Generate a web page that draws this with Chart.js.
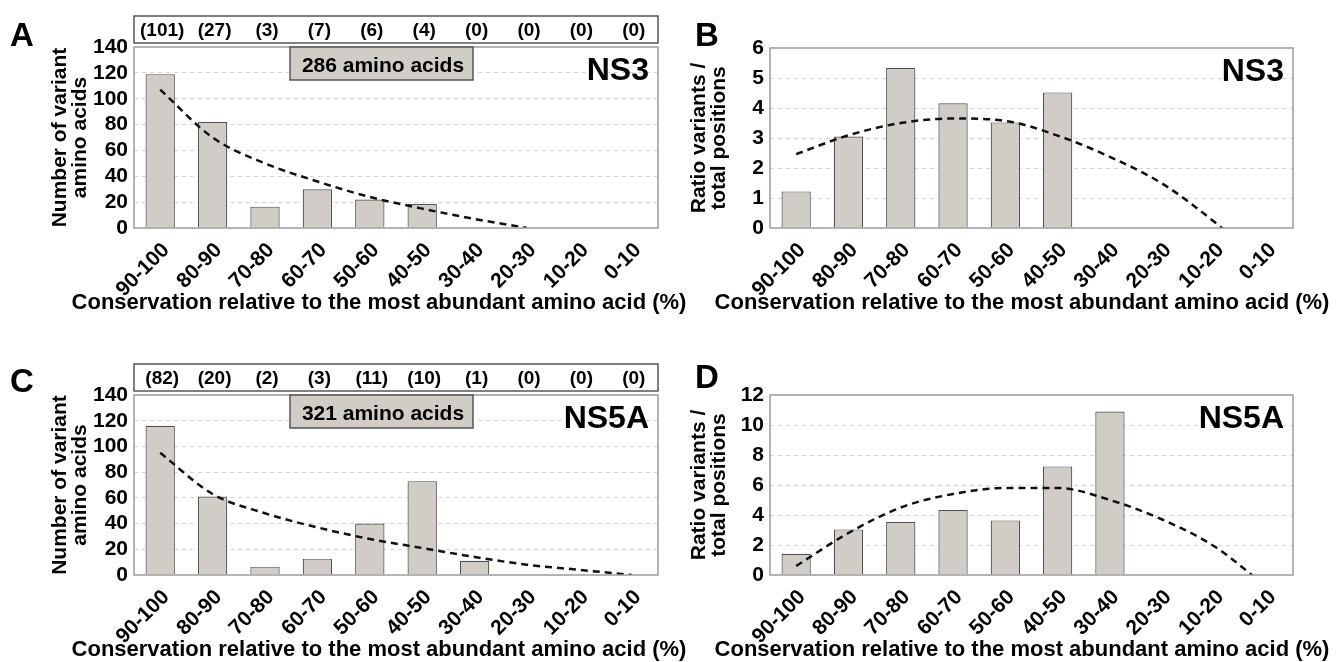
<!DOCTYPE html>
<html>
<head>
<meta charset="utf-8">
<script src="https://cdn.jsdelivr.net/npm/chart.js@4.4.1/dist/chart.umd.min.js"></script>
<style>
    body { margin: 0; background: #fff; }
    canvas { position: absolute; }
</style>
</head>
<body>
<canvas id="chartA" width="700" height="331" style="left:0;top:0"></canvas>
<canvas id="chartB" width="671" height="331" style="left:670px;top:0"></canvas>
<canvas id="chartC" width="700" height="331" style="left:0;top:331px"></canvas>
<canvas id="chartD" width="671" height="331" style="left:670px;top:331px"></canvas>
<script>
// conservation bins, shared by all four panels
var categories = ['90-100', '80-90', '70-80', '60-70', '50-60', '40-50', '30-40', '20-30', '10-20', '0-10'];

// NS3 (panels A and B)
var ns3Variants = [119, 82, 16.5, 30, 22, 18.5, 0, 0, 0, 0];
var ns3VariantsTrend = [107, 70, 50, 36, 24, 15, 7, 0, null, null];
var ns3Positions = [101, 27, 3, 7, 6, 4, 0, 0, 0, 0];
var ns3Ratio = [1.22, 3.05, 5.33, 4.16, 3.52, 4.52, 0, 0, 0, 0];
var ns3RatioTrend = [2.46, 3.09, 3.5, 3.65, 3.57, 3.08, 2.37, 1.48, 0.2, -1.3];

// NS5A (panels C and D)
var ns5aVariants = [116, 61, 6.5, 12.7, 40, 73, 11, 0, 0, 0];
var ns5aVariantsTrend = [95, 63, 48, 37, 28, 21, 14, 8, 4, 0];
var ns5aPositions = [82, 20, 2, 3, 11, 10, 1, 0, 0, 0];
var ns5aRatio = [1.42, 3.04, 3.53, 4.33, 3.64, 7.24, 10.9, 0, 0, 0];
var ns5aRatioTrend = [0.6, 2.8, 4.5, 5.4, 5.8, 5.8, 5.0, 3.7, 1.9, -0.8];

var FONT = '"Liberation Sans", Arial, Helvetica, sans-serif';
var xTitle = 'Conservation relative to the most abundant amino acid (%)';

/* draws the frame, panel letter, protein name, the boxes and the x title */
var extrasPlugin = {
    id: 'extras',
    afterDatasetsDraw: function(chart, args, opts) {
        var ctx = chart.ctx;
        var area = chart.chartArea;
        var xScale = chart.scales.x;
        ctx.save();

        // plot frame
        ctx.strokeStyle = '#9c9c9c';
        ctx.lineWidth = 1.5;
        ctx.strokeRect(area.left, area.top, area.right - area.left, area.bottom - area.top);

        // protein name in the top right corner
        ctx.fillStyle = '#000';
        ctx.font = 'bold 32px ' + FONT;
        ctx.textAlign = 'right';
        ctx.textBaseline = 'alphabetic';
        ctx.fillText(opts.protein, area.right - 9, area.top + 33);

        // panel letter
        ctx.textAlign = 'left';
        ctx.font = 'bold 33px ' + FONT;
        ctx.fillText(opts.letter, opts.letterX, opts.letterY);

        // box with the number of amino acids
        if (opts.aminoText) {
            ctx.fillStyle = '#d1cdc6';
            ctx.fillRect(290, area.top, 183, 33);
            ctx.strokeStyle = '#555';
            ctx.lineWidth = 1.5;
            ctx.strokeRect(290, area.top, 183, 33);
            ctx.fillStyle = '#000';
            ctx.font = 'bold 21px ' + FONT;
            ctx.textAlign = 'center';
            ctx.fillText(opts.aminoText, 383, area.top + 25);
        }

        // strip of position counts above the plot
        if (opts.positions) {
            var boxTop = area.top - 31;
            var boxBottom = area.top - 4;
            ctx.strokeStyle = '#555';
            ctx.lineWidth = 1.5;
            ctx.strokeRect(area.left, boxTop, area.right - area.left, boxBottom - boxTop);
            ctx.fillStyle = '#000';
            ctx.font = 'bold 19px ' + FONT;
            ctx.textAlign = 'center';
            ctx.textBaseline = 'middle';
            opts.positions.forEach(function(n, i) {
                ctx.fillText('(' + n + ')', xScale.getPixelForValue(i) + 2, (boxTop + boxBottom) / 2 + 1);
            });
        }

        // x axis title
        ctx.fillStyle = '#000';
        ctx.font = 'bold 22px ' + FONT;
        ctx.textAlign = 'center';
        ctx.textBaseline = 'middle';
        ctx.fillText(xTitle, opts.titleX, opts.titleY);
        ctx.restore();
    }
};

/* build one panel: bars plus a dashed trend line */
function createChart(canvasId, cfg) {
    var yMax = cfg.yMax;
    return new Chart(document.getElementById(canvasId), {
        type: 'bar',
        data: {
            labels: categories,
            datasets: [{
                type: 'line',
                data: cfg.trend,
                borderColor: '#111',
                borderWidth: 2.5,
                borderDash: [7, 5],
                pointRadius: 0,
                fill: false,
                cubicInterpolationMode: 'monotone',
                order: 0
            }, {
                type: 'bar',
                data: cfg.bars,
                backgroundColor: '#d1cdc6',
                borderColor: '#505050',
                borderWidth: 1.2,
                barPercentage: 0.56,
                categoryPercentage: 1,
                order: 1
            }]
        },
        options: {
            responsive: false,
            animation: false,
            layout: {
                padding: { left: 0, top: cfg.top, right: cfg.right, bottom: 0 }
            },
            plugins: {
                legend: { display: false },
                tooltip: { enabled: false },
                extras: cfg.extras
            },
            scales: {
                x: {
                    grid: { display: false },
                    border: { display: false },
                    ticks: {
                        color: '#000',
                        font: { family: FONT, size: 21, weight: 'bold' },
                        minRotation: 45,
                        maxRotation: 45,
                        autoSkip: false,
                        labelOffset: 6,
                        padding: 2
                    },
                    afterFit: function(scale) { scale.height = cfg.xHeight; }
                },
                y: {
                    min: 0,
                    max: yMax,
                    grid: {
                        drawTicks: false,
                        color: function(c) {
                            return (c.tick.value === 0 || c.tick.value === yMax) ? 'rgba(0,0,0,0)' : '#d6d6d6';
                        }
                    },
                    border: { display: false, dash: [4, 4] },
                    ticks: {
                        stepSize: cfg.step,
                        autoSkip: false,
                        color: '#000',
                        padding: 6,
                        font: { family: FONT, size: 21, weight: 'bold', lineHeight: 1 }
                    },
                    title: {
                        display: true,
                        text: cfg.yTitle,
                        color: '#000',
                        font: { family: FONT, size: 21, weight: 'bold', lineHeight: '20px' },
                        padding: { top: cfg.yTitlePad, bottom: 0 }
                    },
                    afterFit: function(scale) { scale.width = cfg.yWidth; }
                }
            }
        },
        plugins: [extrasPlugin]
    });
}

createChart('chartA', {
    bars: ns3Variants, trend: ns3VariantsTrend, yMax: 140, step: 20,
    yTitle: ['Number of variant', 'amino acids'], yTitlePad: 50,
    top: 47, right: 42, xHeight: 103, yWidth: 134,
    extras: { protein: 'NS3', letter: 'A', letterX: 10, letterY: 46,
              aminoText: '286 amino acids', positions: ns3Positions, titleX: 379, titleY: 303 }
});

createChart('chartB', {
    bars: ns3Ratio, trend: ns3RatioTrend, yMax: 6, step: 1,
    yTitle: ['Ratio variants /', 'total positions'], yTitlePad: 19,
    top: 48, right: 48, xHeight: 103, yWidth: 100,
    extras: { protein: 'NS3', letter: 'B', letterX: 25, letterY: 46,
              titleX: 352, titleY: 303 }
});

createChart('chartC', {
    bars: ns5aVariants, trend: ns5aVariantsTrend, yMax: 140, step: 20,
    yTitle: ['Number of variant', 'amino acids'], yTitlePad: 50,
    top: 64, right: 42, xHeight: 87, yWidth: 134,
    extras: { protein: 'NS5A', letter: 'C', letterX: 10, letterY: 61,
              aminoText: '321 amino acids', positions: ns5aPositions, titleX: 379, titleY: 319 }
});

createChart('chartD', {
    bars: ns5aRatio, trend: ns5aRatioTrend, yMax: 12, step: 2,
    yTitle: ['Ratio variants /', 'total positions'], yTitlePad: 19,
    top: 64, right: 48, xHeight: 87, yWidth: 100,
    extras: { protein: 'NS5A', letter: 'D', letterX: 25, letterY: 57,
              titleX: 352, titleY: 319 }
});
</script>
</body>
</html>
